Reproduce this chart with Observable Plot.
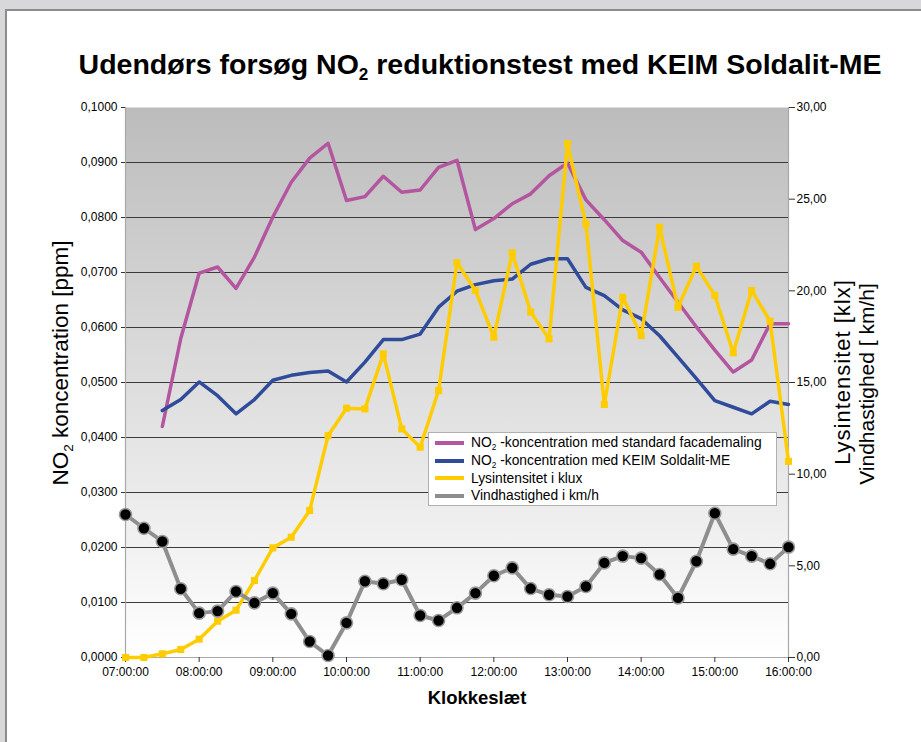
<!DOCTYPE html>
<html><head><meta charset="utf-8">
<script src="https://cdn.jsdelivr.net/npm/d3@7"></script>
<script src="https://cdn.jsdelivr.net/npm/@observablehq/plot@0.6"></script>
<style>
html,body{margin:0;padding:0;}
body{width:921px;height:742px;background:#d8d8da;position:relative;overflow:hidden;font-family:"Liberation Sans",Arial,Helvetica,sans-serif;}
#panel{position:absolute;left:5px;top:9px;width:940px;height:770px;background:#fff;border:2px solid #8c8c8c;box-sizing:border-box;}
#chart{position:absolute;left:0;top:0;}
.t{position:absolute;white-space:nowrap;color:#000;}
.sub{font-size:60%;position:relative;top:0.35em;}
#title{left:0;width:960px;text-align:center;top:48px;font-size:28.5px;font-weight:bold;line-height:32px;}
.rot{transform:translate(-50%,-50%) rotate(-90deg);line-height:24px;}
#xtitle{left:477px;top:698px;transform:translate(-50%,-50%);font-size:18.5px;font-weight:bold;}
#legend{position:absolute;left:428px;top:432px;width:349px;height:74px;box-sizing:border-box;border:1px solid #b0b0b0;background:#fff;padding-top:1px;}
.row{height:17.7px;display:flex;align-items:center;font-size:13.8px;}
.sw{width:29px;height:4px;margin-left:6px;margin-right:7px;}
</style></head><body>
<div id="panel"></div>
<div id="chart"></div>
<div class="t" id="title">Udendørs forsøg NO<span class="sub">2</span> reduktionstest med KEIM Soldalit-ME</div>
<div class="t rot" style="left:62px;top:363px;font-size:22.5px;">NO<span class="sub">2</span> koncentration [ppm]</div>
<div class="t rot" style="left:843px;top:372px;font-size:22px;letter-spacing:1px;">Lysintensitet [klx]</div>
<div class="t rot" style="left:867px;top:384px;font-size:21px;">Vindhastighed [ km/h]</div>
<div class="t" id="xtitle">Klokkeslæt</div>
<div id="legend"></div>
<script>
// ---- Data ----
const times = ["07:00","07:15","07:30","07:45","08:00","08:15","08:30","08:45","09:00","09:15","09:30","09:45",
  "10:00","10:15","10:30","10:45","11:00","11:15","11:30","11:45","12:00","12:15","12:30","12:45",
  "13:00","13:15","13:30","13:45","14:00","14:15","14:30","14:45","15:00","15:15","15:30","15:45","16:00"];
// NO2 concentration, standard facade paint [ppm]
const no2Standard = [null,null,0.0420,0.0580,0.0699,0.0710,0.0671,0.0728,0.0801,0.0864,0.0908,0.0935,
  0.0831,0.0838,0.0875,0.0846,0.0850,0.0891,0.0904,0.0778,0.0798,0.0825,0.0843,0.0876,
  0.0899,0.0832,0.0796,0.0758,0.0737,0.0691,0.0646,0.0601,0.0559,0.0519,0.0541,0.0607,0.0607];
// NO2 concentration, KEIM Soldalit-ME [ppm]
const no2Keim = [null,null,0.0449,0.0469,0.0501,0.0476,0.0443,0.0469,0.0504,0.0513,0.0518,0.0521,
  0.0501,0.0537,0.0578,0.0578,0.0588,0.0637,0.0666,0.0678,0.0685,0.0688,0.0715,0.0725,
  0.0725,0.0673,0.0658,0.0632,0.0616,0.0585,0.0546,0.0507,0.0467,0.0455,0.0443,0.0466,0.0460];
// Light intensity [klux]
const light = [0,0,0.2,0.44,1.0,1.98,2.58,4.2,5.98,6.56,8.02,12.1,
  13.6,13.56,16.56,12.47,11.47,14.56,21.53,20.02,17.47,22.07,18.84,17.38,
  28.02,23.65,13.8,19.65,17.56,23.47,19.1,21.35,19.75,16.62,20.02,18.34,10.7];
// Wind speed [km/h]
const wind = [7.8,7.05,6.33,3.75,2.42,2.53,3.6,2.98,3.51,2.38,0.87,0.11,
  1.89,4.16,4.02,4.24,2.29,2.02,2.71,3.51,4.46,4.89,3.76,3.42,
  3.33,3.87,5.16,5.53,5.42,4.53,3.25,5.25,7.87,5.91,5.53,5.11,6.02];

const leftTicks = [0,0.01,0.02,0.03,0.04,0.05,0.06,0.07,0.08,0.09,0.1];
const gridTicks = [0.01,0.02,0.03,0.04,0.05,0.06,0.07,0.08,0.09];
const rightTicks = [0,5,10,15,20,25,30];
const hourTicks = [7,8,9,10,11,12,13,14,15,16];
const leftMax = 0.1, rightMax = 30;

const seriesNames = ["NO2std","NO2keim","Lys","Vind"];
const colors = {NO2std:"#b4559f", NO2keim:"#2f4b99", Lys:"#ffcc00", Vind:"#8e8e8e"};
const legendLabels = [
  'NO<span class="sub">2</span> -koncentration med standard facademaling',
  'NO<span class="sub">2</span> -koncentration med KEIM Soldalit-ME',
  'Lysintensitet i klux',
  'Vindhastighed i km/h'
];

// ---- Build tables ----
const hour = t => { const [hh, mm] = t.split(":").map(Number); return hh + mm / 60; };
const toLeft = v => v * leftMax / rightMax;
const rows = (arr, conv = v => v) => times.map((t, i) => ({h: hour(t), v: arr[i] == null ? null : conv(arr[i])})).filter(d => d.v != null);
const stdData = rows(no2Standard);
const keimData = rows(no2Keim);
const lightData = rows(light, toLeft);
const windData = rows(wind, toLeft);

const comma = (d, n) => d.toFixed(n).replace(".", ",");

const gradientDefs = () => {
  const svg = d3.create("svg:defs");
  const g = svg.append("linearGradient").attr("id", "bgGrad").attr("x1", 0).attr("y1", 0).attr("x2", 0).attr("y2", 1);
  g.append("stop").attr("offset", "0%").attr("stop-color", "#bcbcbc");
  g.append("stop").attr("offset", "100%").attr("stop-color", "#ffffff");
  return svg.node();
};

const chart = Plot.plot({
  width: 921, height: 742,
  marginLeft: 125, marginRight: 133, marginTop: 107, marginBottom: 85,
  style: {fontFamily: '"Liberation Sans", Arial, sans-serif', fontSize: "12px", background: "transparent", overflow: "visible"},
  x: {domain: [7, 16]},
  y: {domain: [0, leftMax]},
  marks: [
    gradientDefs,
    Plot.frame({fill: "url(#bgGrad)", stroke: null}),
    Plot.ruleY(gridTicks, {stroke: "#3a3a3a", strokeWidth: 1}),
    Plot.ruleY([0], {stroke: "#a8a8a8", strokeWidth: 1.2}),
    Plot.ruleX([7, 16], {stroke: "#a8a8a8", strokeWidth: 1.2}),
    Plot.axisY(leftTicks, {anchor: "left", tickSize: 4, tickPadding: 4, tickFormat: d => comma(d, 4), label: null, stroke: "#333", fill: "#000"}),
    Plot.axisY(rightTicks.map(toLeft), {anchor: "right", tickSize: 6, tickPadding: 2, tickFormat: d => comma(d * rightMax / leftMax, 2), label: null, stroke: "#333", fill: "#000"}),
    Plot.axisX(hourTicks, {anchor: "bottom", tickSize: 5, tickPadding: 5, tickFormat: h => String(h).padStart(2, "0") + ":00:00", label: null, stroke: "#333", fill: "#000"}),
    Plot.line(stdData, {x: "h", y: "v", stroke: colors.NO2std, strokeWidth: 3.5}),
    Plot.line(keimData, {x: "h", y: "v", stroke: colors.NO2keim, strokeWidth: 3.5}),
    Plot.line(lightData, {x: "h", y: "v", stroke: colors.Lys, strokeWidth: 3.5}),
    Plot.dot(lightData, {x: "h", y: "v", symbol: "square", r: 4, fill: colors.Lys, stroke: null}),
    Plot.line(windData, {x: "h", y: "v", stroke: colors.Vind, strokeWidth: 4}),
    Plot.dot(windData, {x: "h", y: "v", r: 6, fill: "#000", stroke: "#999", strokeWidth: 1.6})
  ]
});
document.getElementById("chart").appendChild(chart);

const legend = document.getElementById("legend");
seriesNames.forEach((s, i) => {
  const row = document.createElement("div");
  row.className = "row";
  row.innerHTML = `<div class="sw" style="background:${colors[s]}"></div><div>${legendLabels[i]}</div>`;
  legend.appendChild(row);
});
</script>
</body></html>
